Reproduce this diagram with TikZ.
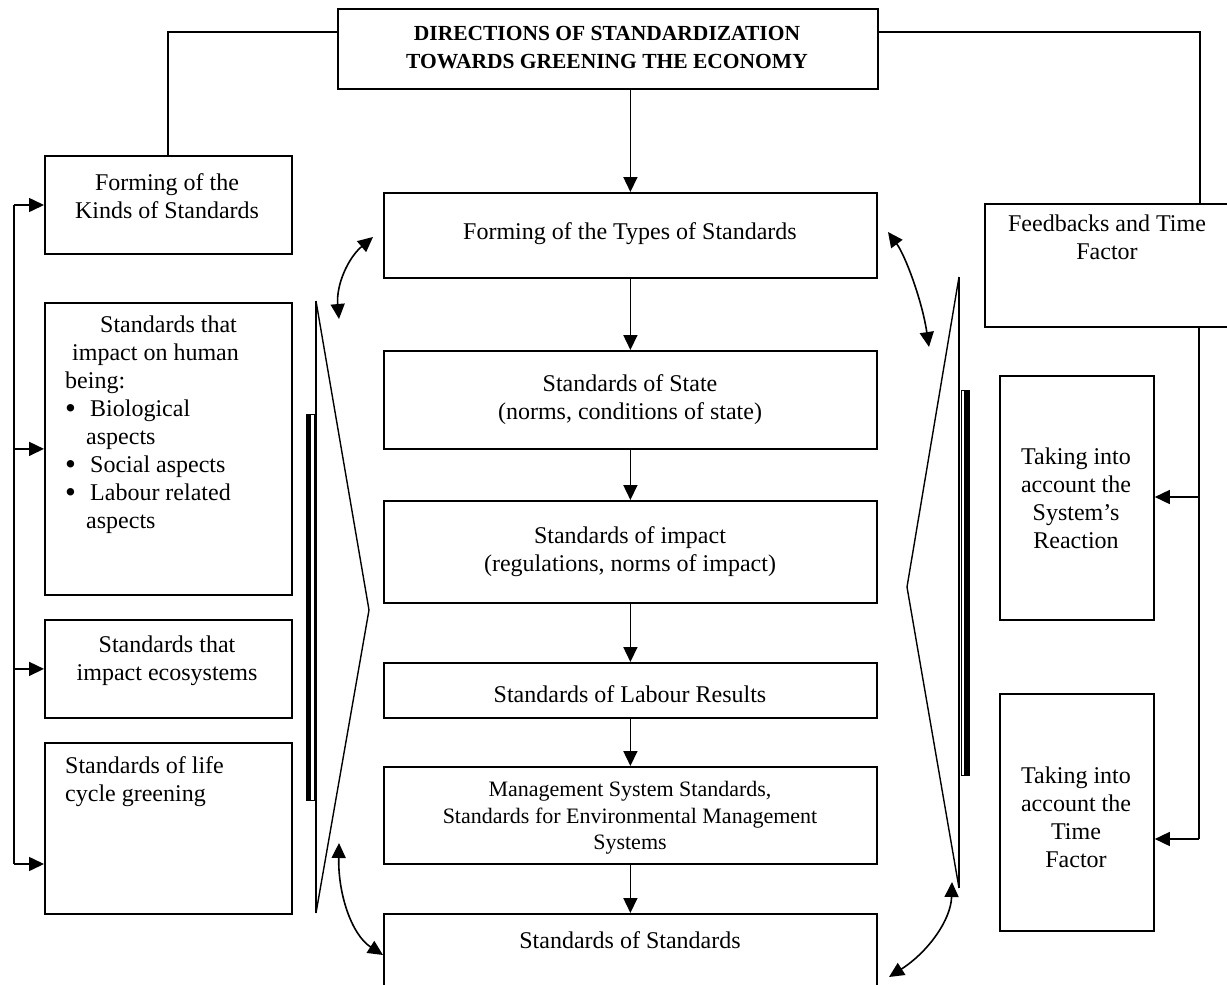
\documentclass[tikz,border=0pt]{standalone}
\usepackage{fontspec}
\setmainfont{Liberation Serif}
\usetikzlibrary{arrows.meta,positioning}

\newcommand{\bigbul}{\makebox[25pt][l]{\raisebox{-1.5pt}{\fontsize{31}{28}\selectfont\textbullet}}}

\tikzset{
  box/.style={draw, line width=1.8pt, inner sep=0pt, anchor=north west},
  txt/.style={font=\fontsize{24}{28}\selectfont, align=center, inner sep=0pt},
  conn/.style={line width=1.6pt},
  arr/.style={line width=1.6pt, -{Triangle[length=15pt,width=14pt]}},
  dbl/.style={line width=1.6pt, {Triangle[length=15pt,width=14pt]}-{Triangle[length=15pt,width=14pt]}},
}

\begin{document}
\begin{tikzpicture}[x=1pt,y=-1pt]
    \useasboundingbox (0,0) rectangle (1227,985);
    \clip (0,0) rectangle (1227,985);

    % title
    \node[box, minimum width=540pt, minimum height=80pt] (title) at (337,8) {};
    \node[txt, font=\fontsize{21.5}{28}\selectfont\bfseries] (title-t) at (607,48)
        {DIRECTIONS OF STANDARDIZATION\\TOWARDS GREENING THE ECONOMY};

    % left column
    \node[box, minimum width=247pt, minimum height=98pt] (kinds) at (44,155) {};
    \node[txt] (kinds-t) at (167,196) {Forming of the\\Kinds of Standards};

    \node[box, minimum width=247pt, minimum height=292pt] (human) at (44,302) {};
    \node[txt, align=left, anchor=west] (human-t) at (65,425)
        {\hspace*{35pt}Standards that\\
         \hspace*{7pt}impact on human\\
         being:\\
         \bigbul Biological\\
         \hspace*{21pt}aspects\\
         \bigbul Social aspects\\
         \bigbul Labour related\\
         \hspace*{21pt}aspects};

    \node[box, minimum width=247pt, minimum height=98pt] (eco) at (44,619) {};
    \node[txt] (eco-t) at (167,661) {Standards that\\impact ecosystems};

    \node[box, minimum width=247pt, minimum height=171pt] (life) at (44,742) {};
    \node[txt, align=left, anchor=west] (life-t) at (65,782) {Standards of life\\cycle greening};

    % middle column
    \node[box, minimum width=493pt, minimum height=85pt] (types) at (383,192) {};
    \node[txt] (types-t) at (630,234) {Forming of the Types of Standards};

    \node[box, minimum width=493pt, minimum height=98pt] (state) at (383,350) {};
    \node[txt] (state-t) at (630,400) {Standards of State\\(norms, conditions of state)};

    \node[box, minimum width=493pt, minimum height=102pt] (impact) at (383,500) {};
    \node[txt] (impact-t) at (630,552) {Standards of impact\\(regulations, norms of impact)};

    \node[box, minimum width=493pt, minimum height=55pt] (labour) at (383,662) {};
    \node[txt] (labour-t) at (630,694) {Standards of Labour Results};

    \node[box, minimum width=493pt, minimum height=97pt] (mgmt) at (383,766) {};
    \node[txt, font=\fontsize{22}{26.5}\selectfont] (mgmt-t) at (630,818)
        {Management System Standards,\\Standards for Environmental Management\\Systems};

    \node[box, minimum width=493pt, minimum height=120pt] (sos) at (383,913) {};
    \node[txt] (sos-t) at (630,940) {Standards of Standards};

    % right column
    \node[box, minimum width=250pt, minimum height=123pt] (fb) at (984,203) {};
    \node[txt] (fb-t) at (1107,237) {Feedbacks and Time\\Factor};

    \node[box, minimum width=154pt, minimum height=244pt] (sys) at (999,375) {};
    \node[txt] (sys-t) at (1076,498) {Taking into\\account the\\System’s\\Reaction};

    \node[box, minimum width=154pt, minimum height=237pt] (time) at (999,693) {};
    \node[txt] (time-t) at (1076,817) {Taking into\\account the\\Time\\Factor};

    % title links
    \coordinate (tl) at (168,32);
    \coordinate (tr) at (1200,32);
    \draw[conn] (title.west |- tl) -- (tl) -- (tl |- kinds.north);
    \draw[conn] (title.east |- tr) -- (tr) -- (tr |- fb.north);
    \draw[arr] (types.north |- title.south) -- (types.north);

    % middle chain
    \foreach \a/\b in {types/state, state/impact, impact/labour, labour/mgmt, mgmt/sos}
        \draw[arr] (\a.south) -- (\b.north);

    % left bus
    \coordinate (lb-top) at (14,205);
    \coordinate (lb-bot) at (14,864);
    \draw[conn] (lb-top) -- (lb-bot);
    \draw[arr] (lb-top) -- (lb-top -| kinds.west);
    \draw[arr] (human.west -| lb-top) -- (human.west);
    \draw[arr] (eco.west -| lb-top) -- (eco.west);
    \draw[arr] (lb-bot) -- (lb-bot -| life.west);

    % right bus
    \coordinate (rs) at (1199,497);
    \coordinate (rb) at (1199,839);
    \draw[conn] (rb |- fb.south) -- (rb);
    \draw[arr] (rs) -- (rs -| sys.east);
    \draw[arr] (rb) -- (rb -| time.east);

    % brackets
    \draw[line width=1.4pt] (316,301) -- (316,913);
    \draw[line width=1.4pt] (316,301) -- (369,610) -- (316,913);
    \fill (306,414) rectangle (311,800);
    \draw[line width=1pt] (306,414) rectangle (314,800);

    \draw[line width=1.4pt] (959,277) -- (959,888);
    \draw[line width=1.4pt] (959,277) -- (907,587) -- (959,888);
    \fill (964,390) rectangle (969,775);
    \draw[line width=1pt] (961,390) rectangle (969,775);

    % curved links
    \coordinate (c1a) at (339,319); \coordinate (c1b) at (373,237);
    \coordinate (c2a) at (339,843); \coordinate (c2b) at (383,955);
    \coordinate (c3a) at (888,232); \coordinate (c3b) at (929,347);
    \coordinate (c4a) at (952,882); \coordinate (c4b) at (889,977);
    \draw[dbl] (c1a) .. controls (336,285) and (348,258) .. (c1b);
    \draw[dbl] (c2a) .. controls (338,895) and (352,935) .. (c2b);
    \draw[dbl] (c3a) .. controls (905,255) and (922,300) .. (c3b);
    \draw[dbl] (c4a) .. controls (951,920) and (928,952) .. (c4b);
\end{tikzpicture}
\end{document}
